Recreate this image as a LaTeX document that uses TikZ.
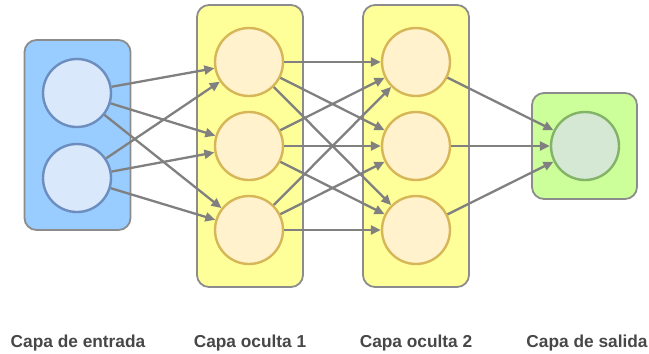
\documentclass[tikz,border=0pt]{standalone}
\usepackage{fontspec}
\setmainfont{Liberation Sans}
\usetikzlibrary{arrows.meta}
\definecolor{inbox}{HTML}{99CCFF}
\definecolor{hidbox}{HTML}{FFFF99}
\definecolor{outbox}{HTML}{CCFF99}
\definecolor{infill}{HTML}{DAE8FC}
\definecolor{indraw}{HTML}{6C8EBF}
\definecolor{hidfill}{HTML}{FFF2CC}
\definecolor{hiddraw}{HTML}{D6B656}
\definecolor{outfill}{HTML}{D5E8D4}
\definecolor{outdraw}{HTML}{82B366}
\tikzset{
  layer/.style={draw=black!45, line width=1.8pt, rounded corners=12pt},
  neuron/.style={circle, minimum size=68pt, inner sep=0pt, line width=2.4pt},
  conn/.style={draw=black!50, line width=2.3pt, arrows={-Triangle[length=10pt,width=9pt]}},
  caption/.style={font=\fontsize{17.3}{20}\selectfont\bfseries, text=black!72}
}
\begin{document}
\begin{tikzpicture}[x=1pt,y=1pt]
\useasboundingbox (0,-354) rectangle (649,0);
% layer boxes
\node[layer, fill=inbox, minimum width=106pt, minimum height=190pt] (boxin) at (77.5,-135) {};
\node[layer, fill=hidbox, minimum width=106pt, minimum height=282pt] (boxh1) at (250,-146) {};
\node[layer, fill=hidbox, minimum width=106pt, minimum height=282pt] (boxh2) at (416,-146) {};
\node[layer, fill=outbox, minimum width=105pt, minimum height=106pt] (boxout) at (584.5,-146) {};
% neurons
\node[neuron, fill=infill, draw=indraw] (i1) at (77,-93) {};
\node[neuron, fill=infill, draw=indraw] (i2) at (77,-178) {};
\node[neuron, fill=hidfill, draw=hiddraw] (a1) at (249,-62) {};
\node[neuron, fill=hidfill, draw=hiddraw] (a2) at (249,-146) {};
\node[neuron, fill=hidfill, draw=hiddraw] (a3) at (249,-230) {};
\node[neuron, fill=hidfill, draw=hiddraw] (b1) at (416,-62) {};
\node[neuron, fill=hidfill, draw=hiddraw] (b2) at (416,-146) {};
\node[neuron, fill=hidfill, draw=hiddraw] (b3) at (416,-230) {};
\node[neuron, fill=outfill, draw=outdraw] (o1) at (585,-146) {};
% connections
\draw[conn] (i1)--(a1); \draw[conn] (i1)--(a2); \draw[conn] (i1)--(a3);
\draw[conn] (i2)--(a1); \draw[conn] (i2)--(a2); \draw[conn] (i2)--(a3);
\draw[conn] (a1)--(b1); \draw[conn] (a1)--(b2); \draw[conn] (a1)--(b3);
\draw[conn] (a2)--(b1); \draw[conn] (a2)--(b2); \draw[conn] (a2)--(b3);
\draw[conn] (a3)--(b1); \draw[conn] (a3)--(b2); \draw[conn] (a3)--(b3);
\draw[conn] (b1)--(o1); \draw[conn] (b2)--(o1); \draw[conn] (b3)--(o1);
% captions
\node[caption] (tin) at (78,-343) {Capa de entrada};
\node[caption] (th1) at (250,-343) {Capa oculta 1};
\node[caption] (th2) at (416,-343) {Capa oculta 2};
\node[caption] (tout) at (587,-343) {Capa de salida};
\end{tikzpicture}
\end{document}
